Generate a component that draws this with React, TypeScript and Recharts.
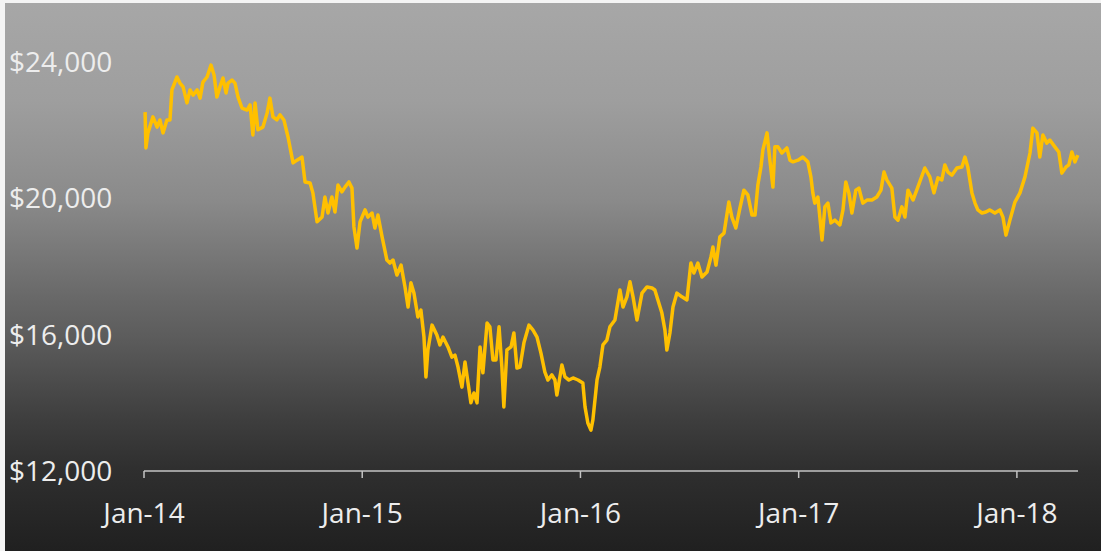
import React from "react";
import { LineChart, Line, XAxis, YAxis } from "recharts";

// time positions (fractional years) and prices
const years = [
  2014.005, 2014.009, 2014.018, 2014.041, 2014.06, 2014.073, 2014.087, 2014.105, 2014.119, 2014.128,
  2014.151, 2014.165, 2014.179, 2014.197, 2014.211, 2014.225, 2014.243, 2014.257, 2014.27, 2014.289,
  2014.307, 2014.321, 2014.334, 2014.348, 2014.362, 2014.376, 2014.385, 2014.403, 2014.417, 2014.431,
  2014.449, 2014.472, 2014.486, 2014.499, 2014.509, 2014.522, 2014.545, 2014.564, 2014.577, 2014.591,
  2014.609, 2014.623, 2014.641, 2014.66, 2014.683, 2014.701, 2014.724, 2014.738, 2014.761, 2014.774,
  2014.793, 2014.816, 2014.829, 2014.843, 2014.861, 2014.875, 2014.889, 2014.907, 2014.921, 2014.939,
  2014.953, 2014.962, 2014.976, 2014.99, 2015.013, 2015.026, 2015.045, 2015.058, 2015.072, 2015.091,
  2015.113, 2015.127, 2015.141, 2015.159, 2015.178, 2015.196, 2015.21, 2015.223, 2015.237, 2015.255,
  2015.269, 2015.283, 2015.292, 2015.301, 2015.32, 2015.342, 2015.356, 2015.37, 2015.393, 2015.411,
  2015.425, 2015.439, 2015.457, 2015.471, 2015.485, 2015.498, 2015.512, 2015.526, 2015.54, 2015.553,
  2015.572, 2015.585, 2015.599, 2015.613, 2015.627, 2015.64, 2015.649, 2015.663, 2015.682, 2015.695,
  2015.709, 2015.723, 2015.741, 2015.764, 2015.782, 2015.801, 2015.819, 2015.837, 2015.851, 2015.869,
  2015.883, 2015.892, 2015.915, 2015.929, 2015.947, 2015.966, 2015.989, 2016.011, 2016.021, 2016.034,
  2016.048, 2016.057, 2016.076, 2016.089, 2016.103, 2016.121, 2016.135, 2016.158, 2016.181, 2016.195,
  2016.213, 2016.227, 2016.241, 2016.259, 2016.282, 2016.305, 2016.328, 2016.341, 2016.355, 2016.373,
  2016.387, 2016.396, 2016.41, 2016.424, 2016.442, 2016.465, 2016.488, 2016.506, 2016.52, 2016.538,
  2016.557, 2016.58, 2016.598, 2016.607, 2016.621, 2016.639, 2016.658, 2016.68, 2016.694, 2016.712,
  2016.731, 2016.749, 2016.767, 2016.786, 2016.8, 2016.813, 2016.827, 2016.836, 2016.855, 2016.868,
  2016.882, 2016.891, 2016.905, 2016.923, 2016.946, 2016.96, 2016.974, 2016.997, 2017.019, 2017.042,
  2017.056, 2017.065, 2017.074, 2017.088, 2017.097, 2017.107, 2017.12, 2017.134, 2017.148, 2017.166,
  2017.189, 2017.203, 2017.216, 2017.23, 2017.244, 2017.262, 2017.276, 2017.294, 2017.313, 2017.336,
  2017.358, 2017.377, 2017.391, 2017.404, 2017.427, 2017.441, 2017.455, 2017.473, 2017.487, 2017.501,
  2017.524, 2017.546, 2017.578, 2017.601, 2017.62, 2017.638, 2017.656, 2017.67, 2017.684, 2017.702,
  2017.725, 2017.748, 2017.762, 2017.775, 2017.794, 2017.808, 2017.821, 2017.84, 2017.858, 2017.876,
  2017.899, 2017.922, 2017.936, 2017.95, 2017.968, 2017.991, 2018.014, 2018.037, 2018.06, 2018.073,
  2018.092, 2018.105, 2018.119, 2018.137, 2018.151, 2018.174, 2018.192, 2018.206, 2018.225, 2018.238,
  2018.252, 2018.266, 2018.279,
];

const prices = [
  22530, 21480, 21920, 22390, 22090, 22300, 21920, 22300, 22300, 23180,
  23560, 23380, 23270, 22800, 23180, 23030, 23180, 22940, 23410, 23560,
  23910, 23620, 22970, 23270, 23530, 23090, 23380, 23470, 23380, 22970,
  22650, 22590, 22740, 21860, 22800, 22010, 22090, 22500, 22940, 22390,
  22300, 22450, 22300, 21800, 21040, 21120, 21210, 20480, 20450, 20160,
  19310, 19450, 20040, 19570, 20040, 19600, 20390, 20190, 20330, 20480,
  20300, 19160, 18540, 19310, 19660, 19450, 19570, 19130, 19510, 18870,
  18190, 18100, 18190, 17750, 18040, 17400, 16810, 17520, 17220, 16520,
  16720, 15930, 14760, 15550, 16280, 15990, 15700, 15930, 15640, 15340,
  15400, 15050, 14460, 15200, 14580, 14000, 14290, 14000, 15640, 14880,
  16340, 16230, 15260, 15260, 16230, 15050, 13880, 15550, 15640, 16050,
  15020, 15050, 15760, 16280, 16140, 15930, 15460, 14900, 14670, 14820,
  14670, 14230, 15110, 14760, 14670, 14730, 14670, 14580, 13880, 13410,
  13200, 13500, 14670, 15050, 15700, 15840, 16230, 16430, 17310, 16810,
  17110, 17550, 17110, 16430, 17220, 17400, 17370, 17310, 17020, 16640,
  16140, 15550, 16050, 16810, 17220, 17110, 17020, 18100, 17810, 18100,
  17690, 17840, 18280, 18570, 18040, 18870, 18980, 19890, 19450, 19130,
  19720, 20240, 20100, 19510, 19510, 20390, 20920, 21420, 21920, 21120,
  20330, 21510, 21510, 21330, 21480, 21120, 21070, 21120, 21210, 21070,
  20630, 20160, 19860, 20040, 19450, 18780, 19750, 19860, 19280, 19360,
  19220, 19660, 20480, 20160, 19570, 20240, 20300, 19860, 19950, 19950,
  20040, 20240, 20770, 20540, 20300, 19450, 19360, 19750, 19450, 20240,
  19950, 20330, 20890, 20630, 20160, 20600, 20540, 20980, 20770, 20680,
  20890, 20920, 21210, 20920, 20160, 19860, 19660, 19570, 19600, 19660,
  19570, 19660, 19450, 18920, 19360, 19890, 20160, 20630, 21330, 22060,
  21920, 21210, 21860, 21620, 21710, 21510, 21360, 20740, 20920, 20980,
  21360, 21070, 21270,
];

const yearTicks = [2014, 2015, 2016, 2017, 2018];
const priceTicks = [12000, 16000, 20000, 24000];

const data = years.map((t, i) => ({ t, price: prices[i] }));

const font = "'Open Sans', 'Noto Sans', sans-serif";
const labelColor = "#ededed";

function PriceTick(props: any) {
  const { y, payload } = props;
  return (
    <text
      x={9}
      y={y}
      dy="0.355em"
      textAnchor="start"
      fill={labelColor}
      fontSize={28}
      fontFamily={font}
    >
      {"$" + Number(payload.value).toLocaleString("en-US")}
    </text>
  );
}

export default function App() {
  return (
    <div
      style={{
        position: "absolute",
        left: 0,
        top: 0,
        width: 1101,
        height: 551,
        background: "#f4f4f4",
        overflow: "hidden",
      }}
    >
      <div
        style={{
          position: "absolute",
          left: 5,
          top: 3,
          right: 0,
          bottom: 0,
          background:
            "linear-gradient(to bottom, #a7a7a7 0%, #9e9e9e 18%, #8a8a8a 36%, #686868 54%, #5c5c5c 61%, #3e3e3e 76%, #2f2f2f 85%, #202020 100%)",
        }}
      />
      <div style={{ position: "absolute", left: 0, top: 0 }}>
        <LineChart
          width={1101}
          height={551}
          data={data}
          margin={{ top: 62, right: 23, bottom: 0, left: 8 }}
        >
          <XAxis
            dataKey="t"
            type="number"
            domain={[2014, 2018.28]}
            ticks={yearTicks}
            tickFormatter={(v: number) => "Jan-" + String(v).slice(2)}
            height={80}
            axisLine={{ stroke: "#c4c4c4", strokeWidth: 1.5 }}
            tickLine={{ stroke: "#c4c4c4", strokeWidth: 1.5 }}
            tickSize={7}
            tickMargin={25}
            tick={{ fill: labelColor, fontSize: 28, fontFamily: font }}
            interval={0}
          />
          <YAxis
            type="number"
            domain={[12000, 24000]}
            ticks={priceTicks}
            width={136}
            axisLine={false}
            tickLine={false}
            tick={<PriceTick />}
            interval={0}
          />
          <Line
            type="linear"
            dataKey="price"
            stroke="#ffc000"
            strokeWidth={3.5}
            strokeLinejoin="round"
            dot={false}
            isAnimationActive={false}
          />
        </LineChart>
      </div>
    </div>
  );
}
